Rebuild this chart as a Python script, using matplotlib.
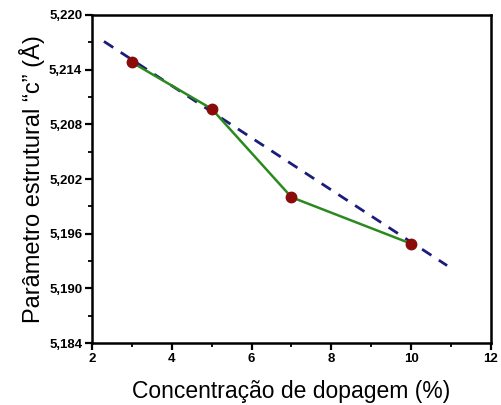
import matplotlib
matplotlib.use('Agg')
import matplotlib.pyplot as plt
from matplotlib.ticker import MultipleLocator, FuncFormatter

# data
doping = [3, 5, 7, 10]
c_param = [5.2148, 5.2097, 5.2000, 5.1949]
fit_x = [2.3, 10.9]
fit_y = [5.2171, 5.1925]

plt.rcParams['font.family'] = ['Liberation Sans', 'DejaVu Sans']

fig = plt.figure(figsize=(5.01, 4.05), dpi=100)
ax = fig.add_axes([0.1836, 0.153, 0.7964, 0.81])

ax.plot(fit_x, fit_y, color='#1c1c7a', lw=2, ls=(0, (4, 3.2)), zorder=2)
ax.plot(doping, c_param, color='#2b8a1e', lw=1.8, zorder=3)
ax.plot(doping, c_param, 'o', color='#8b0a0a', markersize=7.5, zorder=4)

ax.set_xlim(2, 12)
ax.set_ylim(5.184, 5.220)
ax.xaxis.set_major_locator(MultipleLocator(2))
ax.xaxis.set_minor_locator(MultipleLocator(1))
ax.yaxis.set_major_locator(MultipleLocator(0.006))
ax.yaxis.set_minor_locator(MultipleLocator(0.003))
ax.yaxis.set_major_formatter(FuncFormatter(lambda v, p: f"{v:.3f}".replace('.', ',')))

for s in ax.spines.values():
    s.set_linewidth(1.8)
ax.tick_params(which='major', direction='out', length=5, width=1.6, labelsize=9.5, pad=2)
ax.tick_params(which='minor', direction='out', length=3, width=1.3)
ax.tick_params(top=False, right=False, which='both')
for lab in ax.get_xticklabels() + ax.get_yticklabels():
    lab.set_fontweight('bold')

ax.set_xlabel('Concentração de dopagem (%)', fontsize=16.5, labelpad=11)
ax.set_ylabel('Parâmetro estrutural \u201cc\u201d (Å)', fontsize=17, labelpad=3)

fig.savefig('out.png', dpi=100)
